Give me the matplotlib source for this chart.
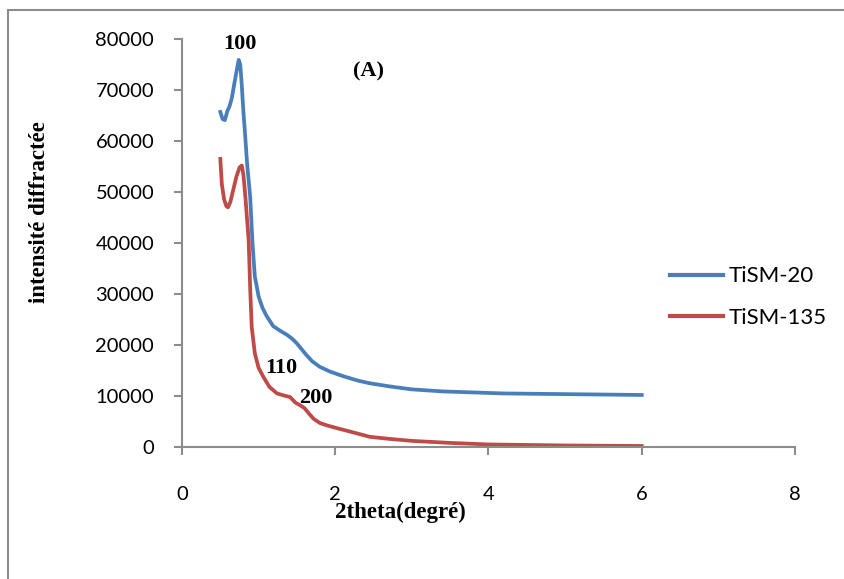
import matplotlib
matplotlib.use("Agg")
import matplotlib.pyplot as plt
from matplotlib.patches import Rectangle

# TiSM-20 (blue)
x_20 = [0.50, 0.53, 0.56, 0.59, 0.62, 0.65, 0.68, 0.71, 0.74, 0.76, 0.78, 0.80, 0.82, 0.85, 0.89, 0.92,
        0.95, 1.00, 1.05, 1.10, 1.19, 1.28, 1.37, 1.44, 1.50, 1.56, 1.62, 1.70, 1.80, 1.93, 2.10,
        2.30, 2.45, 2.70, 3.00, 3.40, 3.80, 4.20, 4.80, 5.40, 6.00]
y_20 = [65700, 64300, 64100, 65800, 66800, 68400, 71000, 73500, 75900, 75000, 71000, 66000, 62000, 55500, 49000, 40000,
        33500, 29500, 27300, 25800, 23700, 22800, 22000, 21200, 20300, 19200, 18100, 16800, 15700, 14800, 13900,
        13000, 12500, 11900, 11300, 10900, 10700, 10500, 10400, 10300, 10200]

# TiSM-135 (red)
x_135 = [0.50, 0.52, 0.55, 0.58, 0.60, 0.63, 0.67, 0.71, 0.75, 0.78, 0.80, 0.81, 0.83, 0.85, 0.87,
         0.89, 0.91, 0.95, 1.00, 1.06, 1.14, 1.24, 1.33, 1.41, 1.48, 1.54, 1.60, 1.66, 1.72, 1.80,
         1.90, 2.02, 2.20, 2.45, 2.70, 3.00, 3.50, 4.00, 5.00, 6.00]
y_135 = [56500, 51500, 48500, 47200, 47000, 48000, 50500, 53000, 54800, 55200, 53500, 52000, 48500, 44500, 40500,
         31000, 23500, 18400, 15500, 13800, 11800, 10500, 10100, 9800, 8700, 8200, 7600, 6500, 5500, 4700,
         4200, 3700, 3000, 2000, 1600, 1200, 800, 500, 300, 200]

series_labels = ["TiSM-20", "TiSM-135"]
colors = ["#4a7ebb", "#be4b48"]
xticks = [0, 2, 4, 6, 8]
yticks = [0, 10000, 20000, 30000, 40000, 50000, 60000, 70000, 80000]

fig = plt.figure(figsize=(8.45, 5.79), dpi=100)
fig.patches.append(Rectangle((8/845, -0.1), 1.2, 1 - 10/579 + 0.1, transform=fig.transFigure,
                             fill=False, edgecolor="#8c8c8c", linewidth=1.5))
ax = fig.add_axes([182/845, 1 - 447/579, (795 - 182)/845, (447 - 39)/579])

ax.plot(x_20, y_20, color=colors[0], linewidth=2.7, label=series_labels[0])
ax.plot(x_135, y_135, color=colors[1], linewidth=2.7, label=series_labels[1])

ax.set_xlim(0, 8)
ax.set_ylim(0, 80000)
ax.set_xticks(xticks)
ax.set_yticks(yticks)
ax.set_xticklabels([str(t) for t in xticks], fontfamily="Lato", fontsize=14.5)
ax.set_yticklabels([str(t) for t in yticks], fontfamily="Lato", fontsize=14.5)
for s in ["top", "right"]:
    ax.spines[s].set_visible(False)
for s in ["left", "bottom"]:
    ax.spines[s].set_color("#8c8c8c")
    ax.spines[s].set_linewidth(1.5)
ax.tick_params(axis="both", direction="out", length=6, width=1.5, color="#8c8c8c")
ax.tick_params(axis="x", pad=22)
ax.tick_params(axis="y", pad=14)

ax.set_xlabel("2theta(degré)", fontfamily="Liberation Serif", fontweight="bold", fontsize=16.5)
ax.xaxis.set_label_coords((400 - 182) / 613, -(512 - 447) / 408)
ax.xaxis.label.set_verticalalignment("center")
ax.set_ylabel("intensité diffractée", fontfamily="Liberation Serif", fontweight="bold", fontsize=16.5)
ax.yaxis.set_label_coords((40 - 182) / 613, (447 - 212) / 408)
ax.yaxis.label.set_verticalalignment("center")

ann = dict(fontfamily="Liberation Serif", fontweight="bold", fontsize=16, ha="center", va="center")
ax.text(0.75, 79000, "100", **ann)
ax.text(2.43, 73700, "(A)", **ann)
ax.text(1.29, 15500, "110", **ann)
ax.text(1.75, 9600, "200", **ann)

leg = ax.legend(loc="center left", bbox_to_anchor=((670 - 182) / 613, (447 - 297) / 408), frameon=False,
                prop={"family": "Lato", "size": 16}, handlelength=2.4, labelspacing=0.95,
                handletextpad=0.25, borderpad=0, borderaxespad=0)
for line in leg.get_lines():
    line.set_linewidth(3)

fig.savefig("out.png", dpi=100)
